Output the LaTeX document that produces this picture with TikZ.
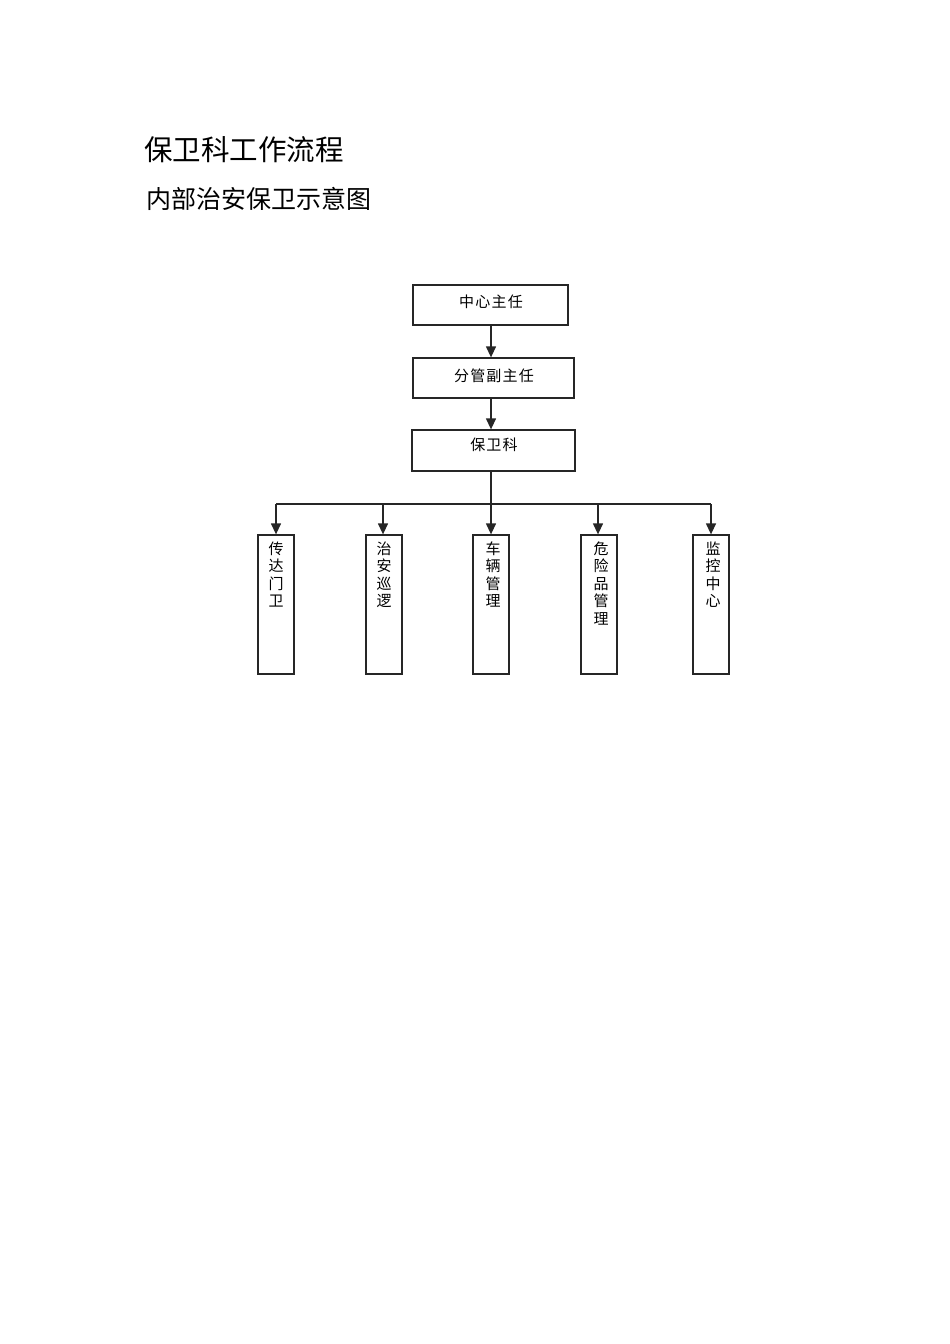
\documentclass[tikz,border=0pt]{standalone}
\usepackage{fontspec}
\newfontfamily\cjk{Noto Sans CJK SC}
\newfontfamily\cjksp{Noto Sans CJK SC}[LetterSpace=8]
\usetikzlibrary{arrows.meta,calc}
\begin{document}
\begin{tikzpicture}[x=1pt,y=-1pt,
  box/.style={draw=black!85,line width=1.3pt,inner sep=0pt},
  lbl/.style={font=\cjksp\fontsize{15}{17.5}\selectfont,align=center,inner sep=0pt},
  vlbl/.style={font=\cjk\fontsize{15}{17.5}\selectfont,align=center,inner sep=0pt},
  arr/.style={line width=1.3pt,draw=black!85,-{Triangle[length=11pt,width=10pt]}},
  ln/.style={line width=1.3pt,draw=black!85}]
\useasboundingbox[fill=white] (0,0) rectangle (950,1344);
\node[anchor=west,font=\cjk\fontsize{28.5}{30}\selectfont,inner sep=0pt] (t1) at (144,150) {保卫科工作流程};
\node[anchor=west,font=\cjk\fontsize{25}{26}\selectfont,inner sep=0pt] (t2) at (146,199) {内部治安保卫示意图};
% top boxes
\node[box,minimum width=155pt,minimum height=40pt] (c1) at (490.5,305) {};
\node[lbl] (c1t) at (491,302) {中心主任};
\node[box,minimum width=161pt,minimum height=40pt] (c2) at (493.5,378) {};
\node[lbl] (c2t) at (494,376) {分管副主任};
\node[box,minimum width=163pt,minimum height=41pt] (c3) at (493.5,450.5) {};
\node[lbl] (c3t) at (494,445) {保卫科};
\coordinate (bus) at (491,504);
\coordinate (busL) at (276,504);
\coordinate (busR) at (711,504);
\draw[arr] (bus |- c1.south) -- (bus |- c2.north);
\draw[arr] (bus |- c2.south) -- (bus |- c3.north);
\draw[ln] (bus |- c3.south) -- (bus);
\draw[ln] (busL) -- (busR);
% bottom boxes
\node[box,minimum width=36pt,minimum height=139pt] (b1) at (276,604.5) {};
\node[box,minimum width=36pt,minimum height=139pt] (b2) at (384,604.5) {};
\node[box,minimum width=36pt,minimum height=139pt] (b3) at (491,604.5) {};
\node[box,minimum width=36pt,minimum height=139pt] (b4) at (599,604.5) {};
\node[box,minimum width=36pt,minimum height=139pt] (b5) at (711,604.5) {};
\node[vlbl,anchor=north] (b1t) at ($(b1.north)+(0,7)$) {传\\达\\门\\卫};
\node[vlbl,anchor=north] (b2t) at ($(b2.north)+(0,7)$) {治\\安\\巡\\逻};
\node[vlbl,anchor=north] (b3t) at ($(b3.north)+(2,7)$) {车\\辆\\管\\理};
\node[vlbl,anchor=north] (b4t) at ($(b4.north)+(2,7)$) {危\\险\\品\\管\\理};
\node[vlbl,anchor=north] (b5t) at ($(b5.north)+(2,7)$) {监\\控\\中\\心};
\draw[arr] (busL) -- (busL |- b1.north);
\draw[arr] (383,504) coordinate (k2) -- (k2 |- b2.north);
\draw[arr] (bus) -- (bus |- b3.north);
\draw[arr] (598,504) coordinate (k4) -- (k4 |- b4.north);
\draw[arr] (busR) -- (busR |- b5.north);
\end{tikzpicture}
\end{document}
